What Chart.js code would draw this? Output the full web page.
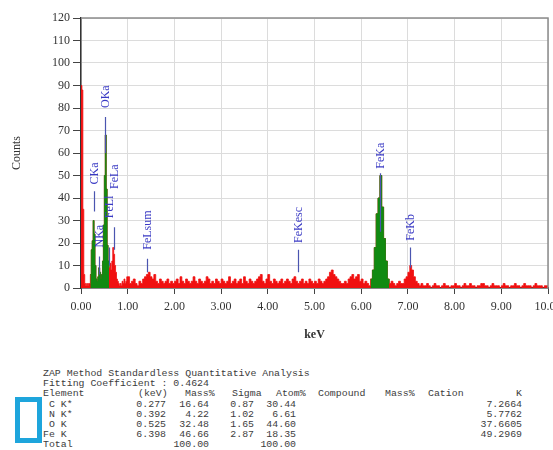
<!DOCTYPE html>
<html>
<head>
<meta charset="utf-8">
<script src="https://cdn.jsdelivr.net/npm/chart.js@4.4.1/dist/chart.umd.min.js"></script>
<style>
  html, body { margin: 0; padding: 0; background: #fff; }
  #page { position: relative; width: 553px; height: 450px; overflow: hidden; }
  #chart-wrapper { position: absolute; left: 0; top: 0; width: 553px; height: 350px; }
  #zaf { position: absolute; left: 0; top: 369px; width: 553px;
         font-family: "Liberation Mono", "DejaVu Sans Mono", monospace; font-size: 9.9px; color: #3c3c3c; }
  .row { position: relative; height: 10.2px; line-height: 10.2px; white-space: pre; }
  .cell { position: absolute; top: 0; }
  #mark { position: absolute; left: 15px; top: 397px; width: 17px; height: 36px; border: 5px solid #1ea5dc; }
</style>
</head>
<body>
<div id="page">
  <div id="chart-wrapper"><canvas id="spectrum" width="553" height="350"></canvas></div>
  <div id="zaf"></div>
  <div id="mark"></div>
</div>
<script>
// counts per channel, 0.00 - 0.98 keV (0.02 keV channels)
const countsBelow1keV = [
  90, 88, 35, 6, 2, 1, 2, 1, 2, 2,
  6, 17, 21, 30, 24, 10, 4, 3, 5, 9,
  7, 4, 6, 12, 28, 50, 68, 44, 19, 12,
  9, 11, 8, 12, 18, 15, 10, 7, 4, 3,
  2, 1, 2, 1, 3, 2, 4, 2, 3, 5
];
// 1.00 - 3.96 keV (0.04 keV channels)
const counts1to4keV = [
  5, 2, 3, 4, 2, 1, 3, 2, 4, 5, 6, 7, 5, 4, 6, 3, 2, 4, 3, 2, 3, 4, 2, 3, 2,
  3, 4, 2, 5, 3, 2, 4, 3, 2, 3, 5, 3, 2, 4, 3, 2, 3, 5, 4, 2, 3, 2, 4, 3, 2,
  4, 3, 2, 3, 5, 2, 3, 4, 2, 3, 4, 2, 5, 3, 2, 4, 3, 2, 3, 4, 5, 6, 3, 2, 4
];
// 4.00 - 6.96 keV
const counts4to7keV = [
  6, 3, 2, 4, 3, 2, 3, 4, 2, 3, 4, 3, 2, 4, 5, 3, 2, 3, 4, 2, 3, 2, 4, 3, 2,
  3, 2, 4, 3, 2, 3, 4, 5, 7, 8, 6, 5, 4, 3, 2, 2, 3, 2, 4, 5, 6, 4, 5, 6, 3,
  4, 2, 3, 2, 1, 4, 8, 18, 33, 40, 50, 36, 22, 12, 4, 2, 3, 2, 1, 2, 3, 2, 2, 4, 5
];
// 7.00 - 9.96 keV
const counts7to10keV = [
  7, 10, 8, 5, 3, 2, 1, 2, 1, 1, 2, 1, 0, 1, 2, 1, 1, 0, 1, 2, 1, 1, 0, 1, 1,
  2, 1, 1, 0, 1, 2, 1, 1, 2, 1, 1, 0, 1, 1, 2, 2, 1, 1, 0, 1, 2, 1, 1, 1, 0,
  1, 2, 1, 1, 0, 1, 1, 2, 1, 1, 0, 1, 2, 1, 1, 1, 0, 1, 2, 1, 1, 1, 0, 1, 1
];

// identified peak regions (keV), drawn in green
const peakRanges = [[0.19, 0.59], [6.19, 6.59]];

// peak markers
const markerNames = ["CKa", "NKa", "OKa", "FeLl", "FeLa", "FeLsum", "FeKesc", "FeKa", "FeKb"];
const markerKeV = [0.28, 0.39, 0.51, 0.61, 0.70, 1.41, 4.65, 6.40, 7.04];
const markerLow = [34, 6, 60, 10, 17, 7, 7, 25, 9];
const markerHigh = [43, 14, 76, 18, 27, 13, 17, 51, 18];
const markerLabelAt = [46, 18, 80, 31, 44, 17, 20, 53, 21];

const xTicks = [0, 1, 2, 3, 4, 5, 6, 7, 8, 9, 10];

// ZAF table
const tableElements = [" C K*", " N K*", " O K", "Fe K"];
const tableKeV = ["0.277", "0.392", "0.525", "6.398"];
const tableMass = ["16.64", "4.22", "32.48", "46.66"];
const tableSigma = ["0.87", "1.02", "1.65", "2.87"];
const tableAtom = ["30.44", "6.61", "44.60", "18.35"];
const tableK = ["7.2664", "5.7762", "37.6605", "49.2969"];

const spectrum = [];
countsBelow1keV.forEach((c, i) => spectrum.push({ x: i * 0.02, y: c }));
[...counts1to4keV, ...counts4to7keV, ...counts7to10keV]
  .forEach((c, i) => spectrum.push({ x: 1 + i * 0.04, y: c }));
spectrum.push({ x: 10, y: 0 });

const peakData = peakRanges.map(([lo, hi]) => {
  const first = spectrum.findIndex((p) => p.x >= lo);
  let last = first;
  while (spectrum[last + 1].x < hi) last++;
  return spectrum.slice(first, last + 2);
});

const serif = "'Liberation Serif', 'Times New Roman', serif";
Chart.defaults.font.family = serif;
Chart.defaults.color = "#333";

const peakLabels = {
  id: "peakLabels",
  afterDatasetsDraw(chart) {
    const { ctx, scales: { x, y } } = chart;
    ctx.save();
    markerNames.forEach((name, i) => {
      const px = Math.round(x.getPixelForValue(markerKeV[i])) + 0.5;
      ctx.strokeStyle = "#4a55b0";
      ctx.lineWidth = 1.2;
      ctx.beginPath();
      ctx.moveTo(px, y.getPixelForValue(markerLow[i]));
      ctx.lineTo(px, y.getPixelForValue(markerHigh[i]));
      ctx.stroke();
      ctx.save();
      ctx.translate(px, y.getPixelForValue(markerLabelAt[i]));
      ctx.rotate(-Math.PI / 2);
      ctx.fillStyle = "#3a3ac4";
      ctx.font = "12px " + serif;
      ctx.textAlign = "left";
      ctx.textBaseline = "middle";
      ctx.fillText(name, 0, 0);
      ctx.restore();
    });
    ctx.restore();
  },
  afterDraw(chart) {
    const { ctx, chartArea: a } = chart;
    ctx.save();
    ctx.strokeStyle = "#8c8c8c";
    ctx.lineWidth = 1.5;
    ctx.beginPath();
    ctx.moveTo(a.left, a.top);
    ctx.lineTo(a.right, a.top);
    ctx.lineTo(a.right, a.bottom);
    ctx.stroke();
    ctx.restore();
  }
};

const stepped = (data, color, order) => ({
  data,
  order,
  stepped: true,
  fill: "origin",
  backgroundColor: color,
  borderColor: color,
  borderWidth: 0.8,
  pointRadius: 0,
  tension: 0
});

new Chart(document.getElementById("spectrum").getContext("2d"), {
  type: "line",
  data: {
    datasets: [
      ...peakData.map((d) => stepped(d, "#118a11", 1)),
      stepped(spectrum, "#f01010", 2)
    ]
  },
  options: {
    responsive: false,
    animation: false,
    devicePixelRatio: 1,
    layout: { padding: { top: 18, right: 5, left: 0, bottom: 0 } },
    plugins: { legend: { display: false }, tooltip: { enabled: false } },
    scales: {
      x: {
        type: "linear",
        min: 0,
        max: 10,
        afterBuildTicks: (s) => { s.ticks = xTicks.map((v) => ({ value: v })); },
        ticks: { callback: (v) => Number(v).toFixed(2), font: { size: 12 }, padding: 6, maxRotation: 0, autoSkip: false },
        grid: { color: "#dcdcdc", tickColor: "#444", tickLength: 6 },
        border: { color: "#333", width: 1.5 },
        title: { display: true, text: "keV", font: { size: 12, weight: "bold" }, padding: { top: 0, bottom: 8 } },
        afterFit: (s) => { s.height = 62; s.paddingLeft = 0; s.paddingRight = 0; }
      },
      y: {
        min: 0,
        max: 120,
        ticks: { stepSize: 10, font: { size: 12 }, padding: 3 },
        grid: { color: "#dcdcdc", tickColor: "#444", tickLength: 8 },
        border: { color: "#333", width: 1.5 },
        title: { display: true, text: "Counts", font: { size: 12 }, padding: { top: 10, bottom: 0 } },
        afterFit: (s) => { s.width = 81; s.paddingTop = 0; s.paddingBottom = 0; }
      }
    }
  },
  plugins: [peakLabels]
});

// table below the chart
const zaf = document.getElementById("zaf");
const addRow = (cells) => {
  const row = document.createElement("div");
  row.className = "row";
  cells.forEach(([text, pos, align]) => {
    const c = document.createElement("span");
    c.className = "cell";
    c.textContent = text;
    if (align === "r") c.style.right = (553 - pos) + "px";
    else c.style.left = pos + "px";
    row.appendChild(c);
  });
  zaf.appendChild(row);
};
addRow([["ZAP Method Standardless Quantitative Analysis", 43]]);
addRow([["Fitting Coefficient : 0.4624", 43]]);
addRow([["Element", 43], ["(keV)", 138], ["Mass%", 185], ["Sigma", 232], ["Atom%", 276],
        ["Compound", 318], ["Mass%", 385], ["Cation", 428], ["K", 522, "r"]]);
tableElements.forEach((el, i) => {
  addRow([[el, 43], [tableKeV[i], 166, "r"], [tableMass[i], 209, "r"], [tableSigma[i], 254, "r"],
          [tableAtom[i], 296, "r"], [tableK[i], 522, "r"]]);
});
addRow([["Total", 43], ["100.00", 209, "r"], ["100.00", 296, "r"]]);
</script>
</body>
</html>
